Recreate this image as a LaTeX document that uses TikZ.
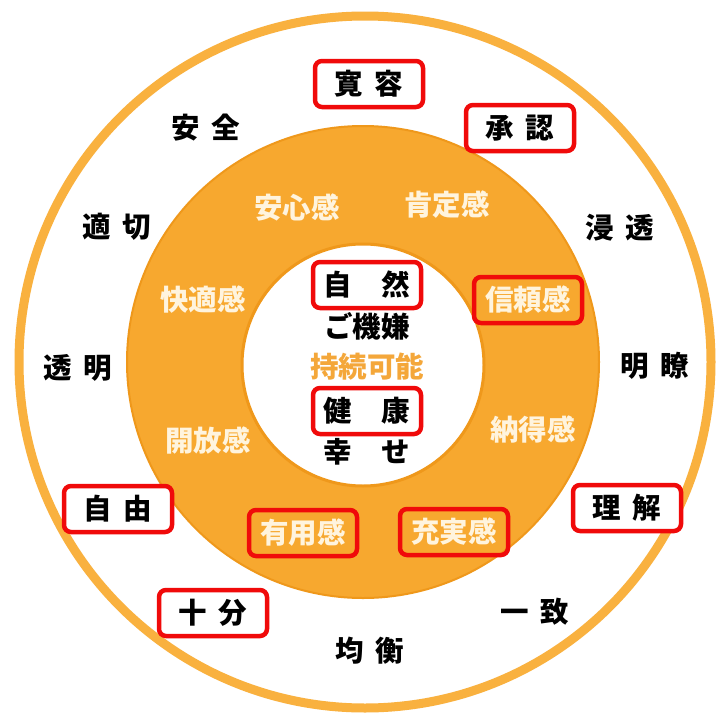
\documentclass[tikz,border=0pt]{standalone}
\usepackage{fontspec}
\newfontfamily\jp{Noto Sans CJK JP}
\definecolor{ringorange}{HTML}{F7A82F}
\definecolor{ringedge}{HTML}{EF981B}
\definecolor{outerring}{HTML}{F9B13F}
\definecolor{cream}{HTML}{FFF4DE}
\definecolor{midorange}{HTML}{F4A73A}
\definecolor{boxred}{HTML}{F00A0A}
\tikzset{
  txt/.style={font=\jp\bfseries\fontsize{28.5}{30}\selectfont, text=black, inner sep=0pt},
  wtxt/.style={txt, text=cream},
  otxt/.style={txt, text=midorange},
  redbox/.style={draw=boxred, line width=4.5pt, rounded corners=7pt, minimum width=108pt, minimum height=46pt, inner sep=0pt},
}
\begin{document}
\begin{tikzpicture}[x=1pt,y=-1pt]
\useasboundingbox (0,0) rectangle (718,715);
\fill[white] (0,0) rectangle (718,715);
% rings
\draw[outerring, line width=9pt] (365,362) circle [radius=346pt];
\filldraw[fill=ringorange, draw=ringedge, line width=2pt] (363,362) circle [radius=236pt];
\filldraw[fill=white, draw=ringedge, line width=3pt] (363,365) circle [radius=121pt];
% outer ring words
\node[txt, redbox, fill=white] (kanyou) at (369,84) {寛\hspace{0.42em}容};
\node[txt, redbox, fill=white] (shounin) at (520,128) {承\hspace{0.42em}認};
\node[txt] (anzen) at (206,128) {安\hspace{0.42em}全};
\node[txt] (tekisetsu) at (117,227) {適\hspace{0.42em}切};
\node[txt] (shintou) at (620,228) {浸\hspace{0.42em}透};
\node[txt] (toumei) at (78,368) {透\hspace{0.42em}明};
\node[txt] (meiryou) at (655,366) {明\hspace{0.42em}瞭};
\node[txt, redbox, fill=white] (jiyuu) at (118,509) {自\hspace{0.42em}由};
\node[txt, redbox, fill=white] (rikai) at (627,508) {理\hspace{0.42em}解};
\node[txt, redbox, fill=white] (juubun) at (213,613) {十\hspace{0.42em}分};
\node[txt] (icchi) at (535,612) {一\hspace{0.42em}致};
\node[txt] (kinkou) at (370,651) {均\hspace{0.42em}衡};
% orange ring words
\node[wtxt] (anshin) at (297,207) {安心感};
\node[wtxt] (koutei) at (447,205) {肯定感};
\node[wtxt] (kaiteki) at (203,300) {快適感};
\node[wtxt, redbox] (shinrai) at (528,300) {信頼感};
\node[wtxt] (kaihou) at (208,441) {開放感};
\node[wtxt] (nattoku) at (533,430) {納得感};
\node[wtxt, redbox] (yuuyou) at (303,533) {有用感};
\node[wtxt, redbox] (juujitsu) at (454,532) {充実感};
% inner circle words
\node[txt, redbox, fill=white] (shizen) at (367,285) {自\hspace{1.05em}然};
\node[txt] (gokigen) at (367,326) {ご機嫌};
\node[otxt] (jizoku) at (367,367) {持続可能};
\node[txt, redbox, fill=white] (kenkou) at (367,411) {健\hspace{1.05em}康};
\node[txt] (shiawase) at (367,452) {幸\hspace{1.05em}せ};
\end{tikzpicture}
\end{document}
